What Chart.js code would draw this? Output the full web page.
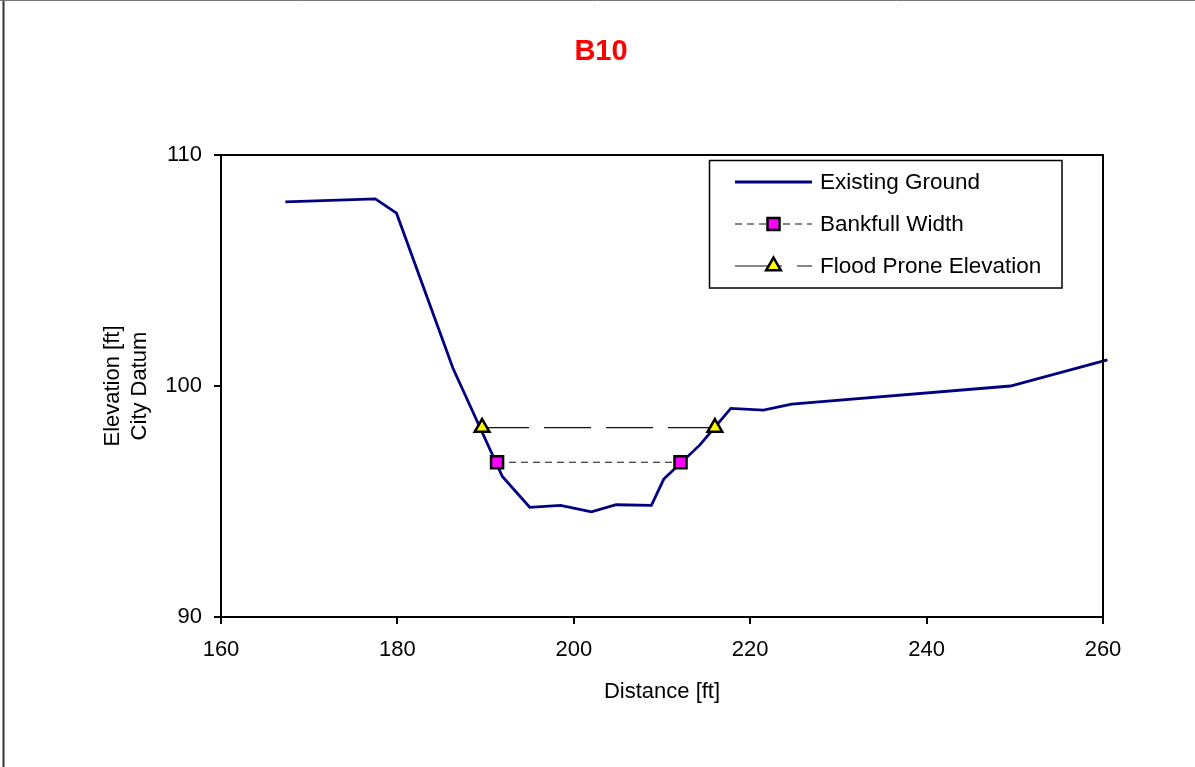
<!DOCTYPE html>
<html>
<head>
<meta charset="utf-8">
<script src="https://cdn.jsdelivr.net/npm/chart.js@4/dist/chart.umd.min.js"></script>
<style>
  html, body { margin: 0; padding: 0; background: #fff; }
  canvas { display: block; }
</style>
</head>
<body>
<canvas id="c" width="1195" height="767"></canvas>
<script>
// Cross-section B10: surveyed ground profile with bankfull and flood-prone levels
const groundDistance  = [167.3, 177.5, 179.9, 186.3, 191.9, 195.0, 198.5, 202.0, 204.8, 208.8, 210.2, 214.3, 217.8, 221.5, 224.7, 249.5, 260.5];
const groundElevation = [107.97, 108.1, 107.48, 100.77, 96.08, 94.75, 94.83, 94.55, 94.86, 94.83, 95.97, 97.45, 99.03, 98.96, 99.22, 100.0, 101.13];

const bankfullDistance  = [191.3, 212.1];
const bankfullElevation = [96.7, 96.7];

const floodDistance  = [189.6, 216.0];
const floodElevation = [98.2, 98.2];

const xTicks = [160, 180, 200, 220, 240, 260];
const yTicks = [90, 100, 110];

const seriesNames = ['Existing Ground', 'Bankfull Width', 'Flood Prone Elevation'];

const toPoints = (xs, ys) => xs.map((x, i) => ({ x, y: ys[i] }));

const FONT = '"Liberation Sans", Arial, sans-serif';

// Full-canvas background and frame
const framePlugin = {
  id: 'frame',
  beforeDraw(chart) {
    const ctx = chart.ctx;
    ctx.save();
    ctx.fillStyle = '#fff';
    ctx.fillRect(0, 0, chart.width, chart.height);
    ctx.strokeStyle = '#333';
    ctx.lineWidth = 2;
    ctx.beginPath();
    ctx.moveTo(3.5, 0);
    ctx.lineTo(3.5, chart.height);
    ctx.stroke();
    ctx.strokeStyle = '#777';
    ctx.lineWidth = 1;
    ctx.beginPath();
    ctx.moveTo(0, 0.5);
    ctx.lineTo(chart.width, 0.5);
    ctx.stroke();
    ctx.restore();
  },
  afterDatasetsDraw(chart) {
    // closed box round the plot area
    const a = chart.chartArea;
    const ctx = chart.ctx;
    ctx.save();
    ctx.strokeStyle = '#000';
    ctx.lineWidth = 2;
    ctx.strokeRect(a.left, a.top, a.right - a.left, a.bottom - a.top);
    ctx.restore();
  }
};

// Boxed legend with line samples carrying each series' marker
const boxLegendPlugin = {
  id: 'boxLegend',
  afterDraw(chart, args, opts) {
    const ctx = chart.ctx;
    const b = opts.box;
    ctx.save();
    ctx.fillStyle = '#fff';
    ctx.fillRect(b.left, b.top, b.right - b.left, b.bottom - b.top);
    ctx.strokeStyle = '#000';
    ctx.lineWidth = 1.5;
    ctx.strokeRect(b.left, b.top, b.right - b.left, b.bottom - b.top);

    chart.data.datasets.forEach((ds, i) => {
      const y = opts.rows[i];
      ctx.save();
      ctx.strokeStyle = ds.borderColor;
      ctx.lineWidth = ds.borderWidth;
      ctx.setLineDash(ds.borderDash || []);
      ctx.beginPath();
      ctx.moveTo(opts.sampleLeft, y);
      ctx.lineTo(opts.sampleRight, y);
      ctx.stroke();
      ctx.restore();
      if (ds.pointRadius > 0) {
        ctx.save();
        ctx.fillStyle = ds.pointBackgroundColor;
        ctx.strokeStyle = ds.pointBorderColor;
        ctx.lineWidth = ds.pointBorderWidth;
        Chart.helpers.drawPoint(ctx, {
          pointStyle: ds.pointStyle,
          radius: ds.pointRadius,
          borderWidth: ds.pointBorderWidth,
          rotation: 0
        }, (opts.sampleLeft + opts.sampleRight) / 2, y);
        ctx.restore();
      }
      ctx.fillStyle = '#000';
      ctx.font = opts.font;
      ctx.textAlign = 'left';
      ctx.textBaseline = 'middle';
      ctx.fillText(ds.label, opts.textLeft, y + 1);
    });
    ctx.restore();
  }
};

new Chart(document.getElementById('c'), {
  type: 'scatter',
  data: {
    datasets: [
      {
        label: seriesNames[0],
        data: toPoints(groundDistance, groundElevation),
        showLine: true,
        borderColor: '#000080',
        borderWidth: 2.8,
        pointRadius: 0,
        pointHoverRadius: 0,
        clip: false,
        order: 3
      },
      {
        label: seriesNames[1],
        data: toPoints(bankfullDistance, bankfullElevation),
        showLine: true,
        borderColor: '#111',
        borderWidth: 1.2,
        borderDash: [7, 5],
        pointStyle: 'rect',
        pointRadius: 8.5,
        pointBackgroundColor: '#FF00FF',
        pointBorderColor: '#000',
        pointBorderWidth: 2.5,
        order: 2
      },
      {
        label: seriesNames[2],
        data: toPoints(floodDistance, floodElevation),
        showLine: true,
        borderColor: '#111',
        borderWidth: 1.2,
        borderDash: [47, 15],
        pointStyle: 'triangle',
        pointRadius: 8.5,
        pointBackgroundColor: '#FFFF00',
        pointBorderColor: '#000',
        pointBorderWidth: 2.5,
        order: 1
      }
    ]
  },
  options: {
    responsive: false,
    animation: false,
    devicePixelRatio: 1,
    layout: { padding: { left: 99, right: 92, top: 0, bottom: 62 } },
    plugins: {
      legend: { display: false },
      tooltip: { enabled: false },
      title: {
        display: true,
        text: 'B10',
        color: '#FF0000',
        font: { family: FONT, size: 29, weight: 'bold', lineHeight: 1.2 },
        padding: { top: 35, bottom: 85.2 }
      },
      boxLegend: {
        box: { left: 709.5, top: 160.5, right: 1062, bottom: 288 },
        rows: [182, 224, 266],
        sampleLeft: 735,
        sampleRight: 812,
        textLeft: 820,
        font: '22.5px ' + FONT
      }
    },
    scales: {
      x: {
        type: 'linear',
        min: 160,
        max: 260,
        afterFit(scale) { scale.height = 88; },
        afterBuildTicks(scale) { scale.ticks = xTicks.map(v => ({ value: v })); },
        grid: { drawOnChartArea: false, drawTicks: true, tickLength: 7, color: '#000', lineWidth: 2 },
        border: { display: true, color: '#000', width: 2 },
        ticks: { color: '#000', font: { family: FONT, size: 22, lineHeight: 1.2 }, padding: 13, maxRotation: 0 },
        title: {
          display: true,
          text: 'Distance [ft]',
          color: '#000',
          font: { family: FONT, size: 22, lineHeight: 1.2 },
          padding: 0
        }
      },
      y: {
        type: 'linear',
        min: 90,
        max: 110,
        afterFit(scale) { scale.width = 122; },
        afterBuildTicks(scale) { scale.ticks = yTicks.map(v => ({ value: v })); },
        grid: { drawOnChartArea: false, drawTicks: true, tickLength: 7, color: '#000', lineWidth: 2 },
        border: { display: true, color: '#000', width: 2 },
        ticks: { color: '#000', font: { family: FONT, size: 22, lineHeight: 1.2 }, padding: 12 },
        title: {
          display: true,
          text: ['Elevation [ft]', 'City Datum'],
          color: '#000',
          font: { family: FONT, size: 22, lineHeight: 1.25 },
          padding: 0
        }
      }
    }
  },
  plugins: [framePlugin, boxLegendPlugin]
});
</script>
</body>
</html>
